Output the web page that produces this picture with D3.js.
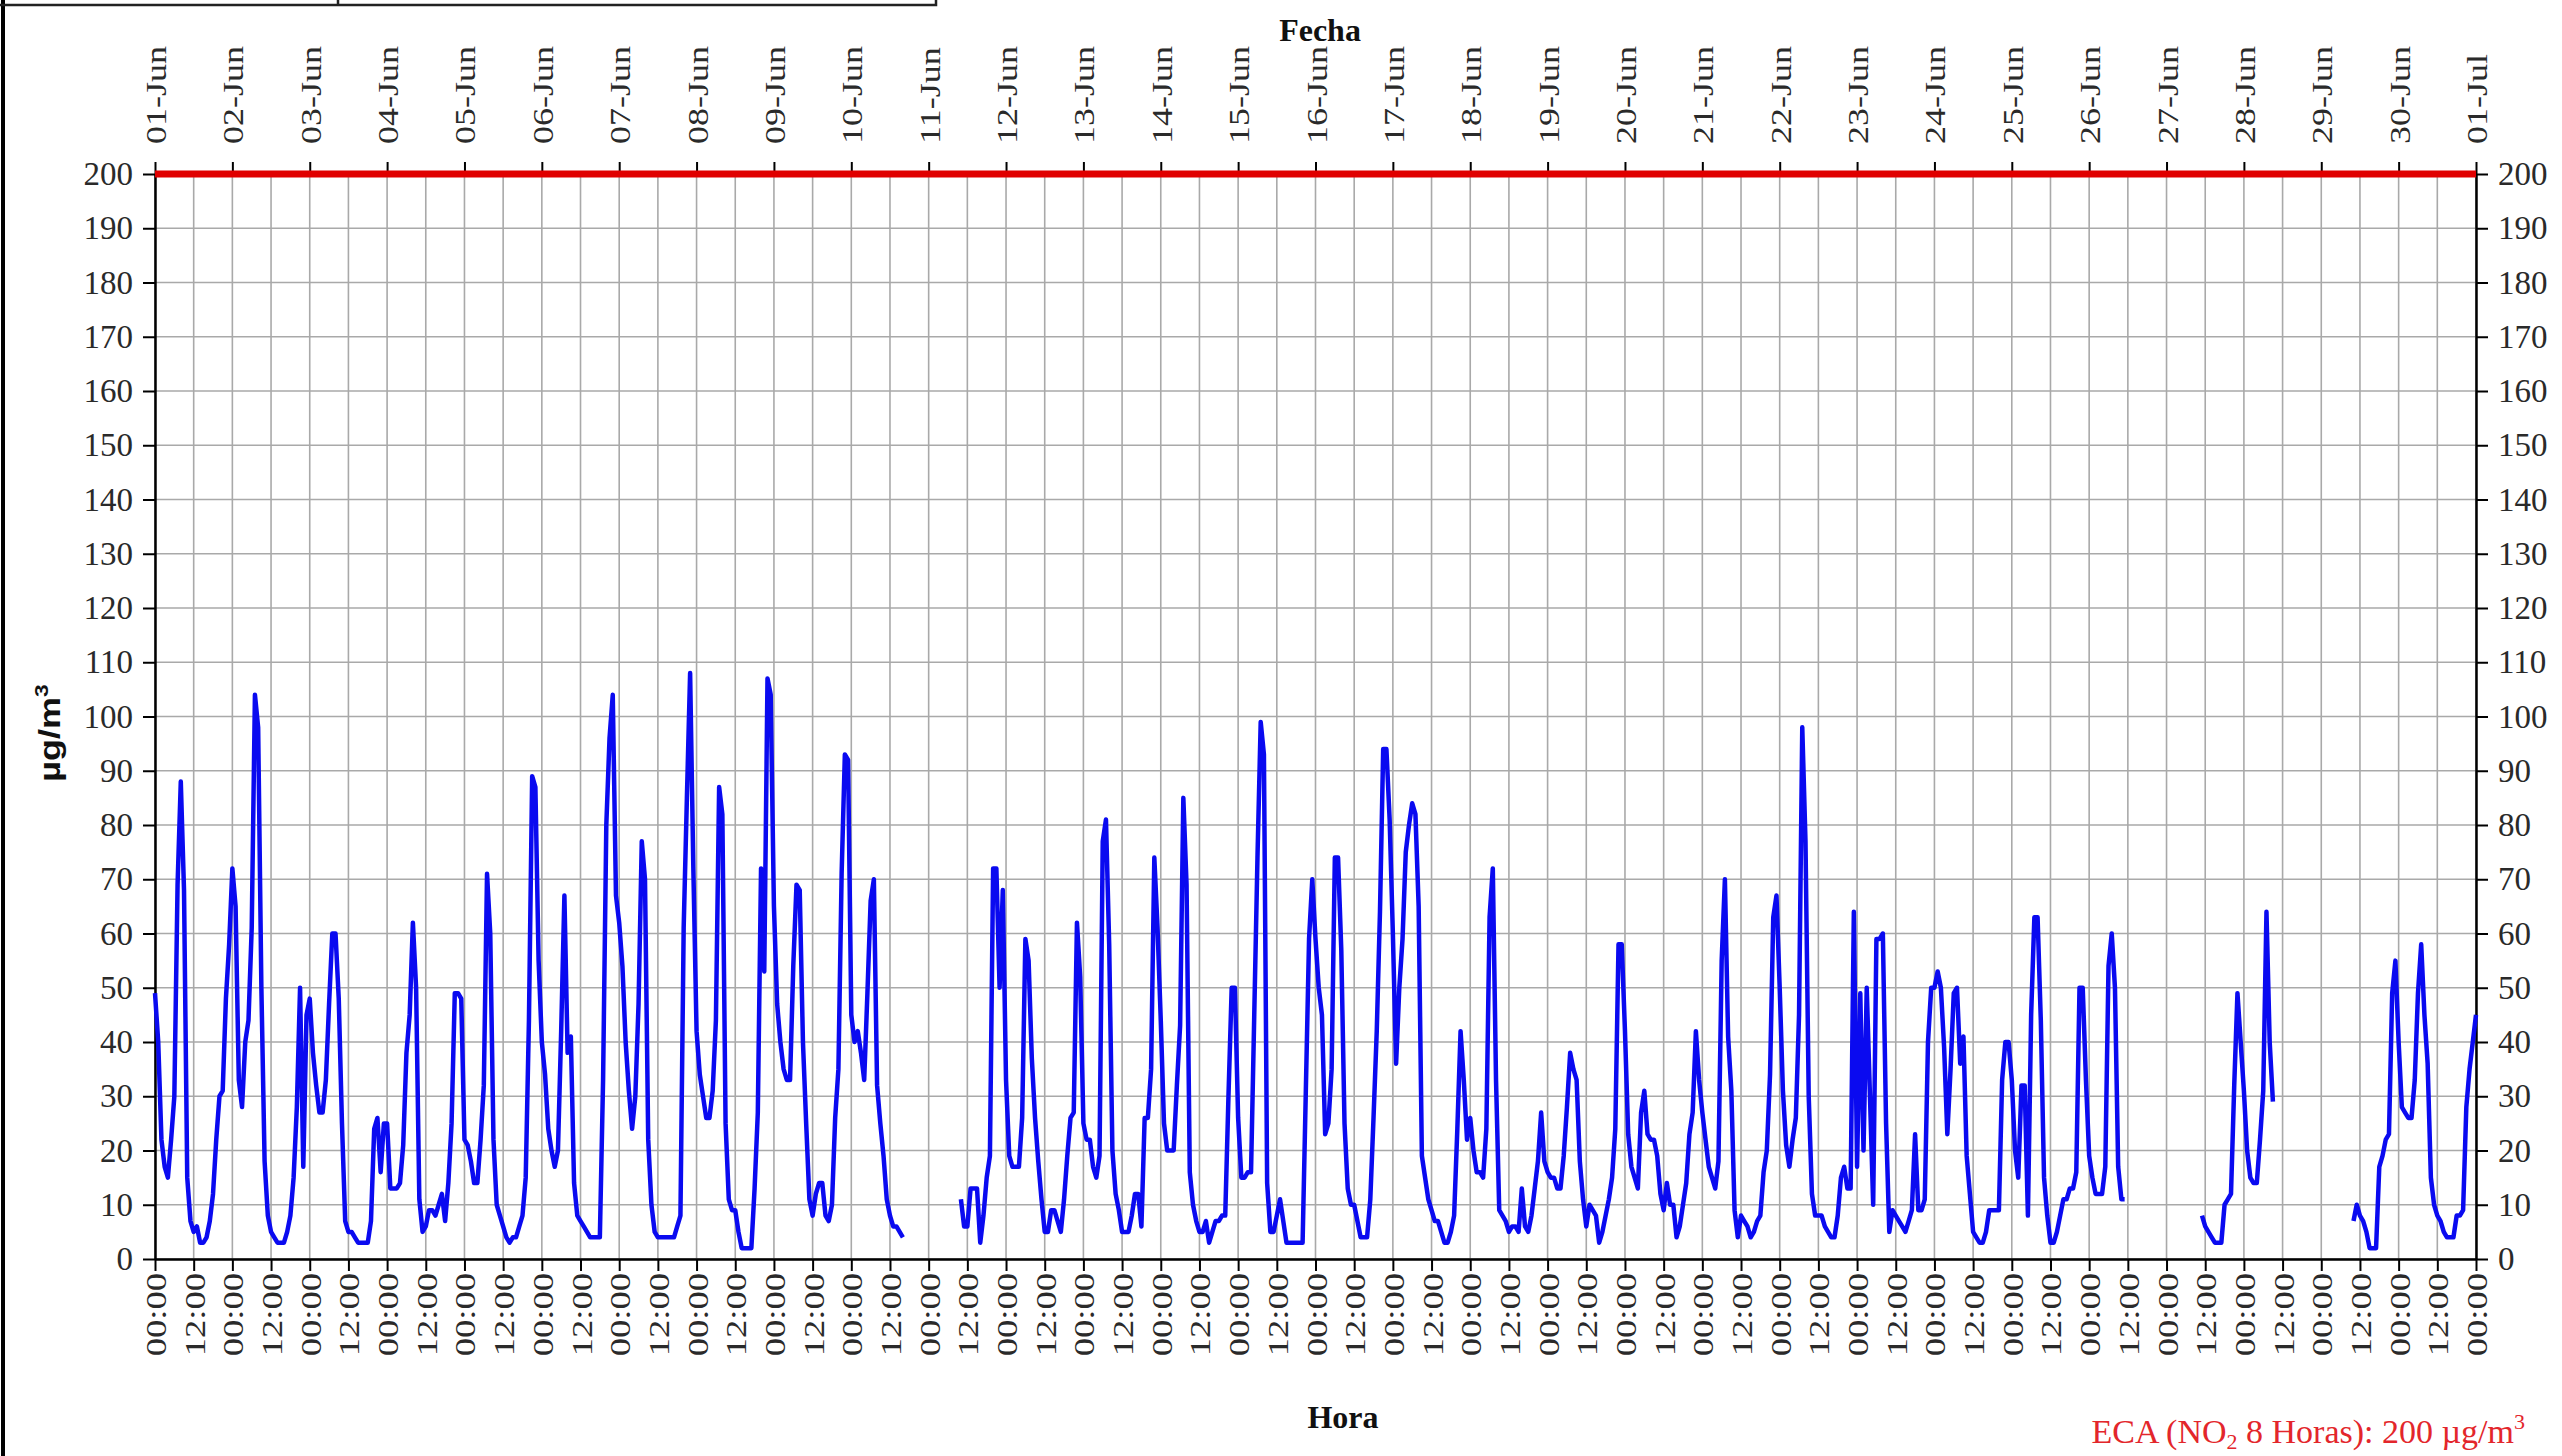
<!DOCTYPE html>
<html><head><meta charset="utf-8">
<script src="https://cdn.jsdelivr.net/npm/d3@7"></script>
<style>
body{margin:0;background:#fff;}
svg{display:block;}
</style>
</head><body>
<svg id="chart" width="2562" height="1456"></svg>
<script>
// ---------- DATA (hourly NO2, µg/m3, June) ----------
const dayLabels = ["01-Jun","02-Jun","03-Jun","04-Jun","05-Jun","06-Jun","07-Jun","08-Jun","09-Jun","10-Jun",
  "11-Jun","12-Jun","13-Jun","14-Jun","15-Jun","16-Jun","17-Jun","18-Jun","19-Jun","20-Jun",
  "21-Jun","22-Jun","23-Jun","24-Jun","25-Jun","26-Jun","27-Jun","28-Jun","29-Jun","30-Jun","01-Jul"];
const hourLabels = ["00:00","12:00"];
const yTicks = [0,10,20,30,40,50,60,70,80,90,100,110,120,130,140,150,160,170,180,190,200];
const ecaLimit = [200];

const day01 = [49,40,22,17,15,22,30,69,88,68,15,7,5,6,3,3,4,7,12,22,30,31,48,58];
const day02 = [72,65,33,28,40,44,61,104,98,50,18,8,5,4,3,3,3,5,8,15,28,50,17,45];
const day03 = [48,38,32,27,27,33,47,60,60,48,25,7,5,5,4,3,3,3,3,7,24,26,16,25];
const day04 = [25,13,13,13,14,21,38,45,62,50,11,5,6,9,9,8,10,12,7,14,25,49,49,48];
const day05 = [22,21,18,14,14,22,32,71,60,22,10,8,6,4,3,4,4,6,8,15,44,89,87,55];
const day06 = [40,34,24,20,17,20,42,67,38,41,14,8,7,6,5,4,4,4,4,33,80,96,104,67];
const day07 = [62,54,40,31,24,30,47,77,70,22,10,5,4,4,4,4,4,4,6,8,61,85,108,72];
const day08 = [42,34,30,26,26,31,44,87,82,25,11,9,9,5,2,2,2,2,13,27,72,53,107,104];
const day09 = [65,47,40,35,33,33,54,69,68,40,25,11,8,12,14,14,8,7,10,26,35,71,93,92];
const day10 = [45,40,42,38,33,49,66,70,32,25,19,11,8,6,6,5,4,null,null,null,null,null,null,null];
const day11 = [null,null,null,null,null,null,null,null,null,null,11,6,6,13,13,13,3,8,15,19,72,72,50,68];
const day12 = [33,19,17,17,17,26,59,55,37,26,18,11,5,5,9,9,7,5,11,19,26,27,62,52];
const day13 = [25,22,22,17,15,19,77,81,58,20,12,9,5,5,5,8,12,12,6,26,26,35,74,61];
const day14 = [44,25,20,20,20,32,43,85,69,16,10,7,5,5,7,3,5,7,7,8,8,30,50,50];
const day15 = [26,15,15,16,16,45,74,99,93,14,5,5,8,11,7,3,3,3,3,3,3,31,59,70];
const day16 = [59,50,45,23,25,35,74,74,57,25,13,10,10,7,4,4,4,11,26,42,64,94,94,81];
const day17 = [60,36,50,59,75,80,84,82,65,19,15,11,9,7,7,5,3,3,5,8,24,42,33,22];
const day18 = [26,20,16,16,15,24,63,72,33,9,8,7,5,6,6,5,13,6,5,8,13,18,27,18];
const day19 = [16,15,15,13,13,19,28,38,35,33,18,11,6,10,9,8,3,5,8,11,15,24,58,58];
const day20 = [42,23,17,15,13,27,31,23,22,22,19,12,9,14,10,10,4,6,10,14,23,27,42,33];
const day21 = [27,22,17,15,13,18,55,70,41,31,9,4,8,7,6,4,5,7,8,16,20,34,63,67];
const day22 = [50,31,21,17,22,26,45,98,77,30,12,8,8,8,6,5,4,4,8,15,17,13,13,64];
const day23 = [17,49,20,50,30,10,59,59,60,25,5,9,8,7,6,5,7,9,23,9,9,11,40,50];
const day24 = [50,53,50,39,23,35,49,50,36,41,19,12,5,4,3,3,5,9,9,9,9,33,40,40];
const day25 = [33,20,15,32,32,8,45,63,63,44,15,8,3,3,5,8,11,11,13,13,16,50,50,33];
const day26 = [19,15,12,12,12,17,54,60,50,17,11,11,null,null,null,null,null,null,null,null,null,null,null,null];
const day27 = [null,null,null,null,null,null,null,null,null,null,null,8,6,5,4,3,3,3,10,11,12,32,49,40];
const day28 = [31,20,15,14,14,22,31,64,40,29,null,null,null,null,null,null,null,null,null,null,null,null,null,null];
const day29 = [null,null,null,null,null,null,null,null,null,null,7,10,8,7,5,2,2,2,17,19,22,23,49,55];
const day30 = [40,28,27,26,26,33,49,58,45,36,15,10,8,7,5,4,4,4,8,8,9,28,35,40];
const jul01 = [45];

const days = [day01,day02,day03,day04,day05,day06,day07,day08,day09,day10,day11,day12,day13,day14,day15,
  day16,day17,day18,day19,day20,day21,day22,day23,day24,day25,day26,day27,day28,day29,day30,jul01];
const series = [];
days.forEach((arr, di) => arr.forEach((v, hi) => series.push({h: di*24 + hi, v: v})));

// ---------- DRAWING ----------
const svg = d3.select("#chart");
const SERIF = "'Liberation Serif','Times New Roman',serif";
const SANS = "'Liberation Sans',Arial,sans-serif";
const L = 155, R = 2476, T = 174, B = 1259;
const x = d3.scaleLinear().domain([0, 720]).range([L, R]);
const y = d3.scaleLinear().domain([0, 200]).range([B, T]);

svg.append("rect").attr("width", 2562).attr("height", 1456).attr("fill", "#fff");

// frame pieces at top-left
svg.append("path").attr("d", "M3,0 V1456").attr("stroke", "#000").attr("stroke-width", 4).attr("fill", "none");
svg.append("path").attr("d", "M0,5 H936 V0 M338,0 V5").attr("stroke", "#222").attr("stroke-width", 2.5).attr("fill", "none");

// grid
const hourGrid = d3.range(0, 721, 12);
svg.append("g").selectAll("line").data(hourGrid).join("line")
  .attr("x1", d => x(d)).attr("x2", d => x(d)).attr("y1", T).attr("y2", B)
  .attr("stroke", "#a9a9a9").attr("stroke-width", 1.6);
svg.append("g").selectAll("line").data(yTicks).join("line")
  .attr("x1", L).attr("x2", R).attr("y1", d => y(d)).attr("y2", d => y(d))
  .attr("stroke", "#a9a9a9").attr("stroke-width", 1.6);

function styleAxis(g, size) {
  g.select(".domain").attr("stroke", "#000").attr("stroke-width", 2.5);
  g.selectAll(".tick line").attr("stroke", "#000").attr("stroke-width", 2);
  g.selectAll("text").attr("font-family", SERIF).attr("font-size", size).attr("fill", "#2a2a2a");
}

// left / right axes
const gl = svg.append("g").attr("transform", `translate(${L},0)`)
  .call(d3.axisLeft(y).tickValues(yTicks).tickSize(12).tickSizeOuter(0).tickPadding(10));
styleAxis(gl, 33);
const gr = svg.append("g").attr("transform", `translate(${R},0)`)
  .call(d3.axisRight(y).tickValues(yTicks).tickSize(12).tickSizeOuter(0).tickPadding(10));
styleAxis(gr, 33);

// bottom axis (hours)
const gb = svg.append("g").attr("transform", `translate(0,${B})`)
  .call(d3.axisBottom(x).tickValues(hourGrid).tickSize(12).tickSizeOuter(0)
    .tickFormat((d, i) => hourLabels[i % 2]));
styleAxis(gb, 30);
gb.selectAll("text").attr("x", 0).attr("y", 0).attr("dy", "0.35em")
  .attr("text-anchor", "end").attr("transform", "translate(0,14) rotate(-90) scale(1.22,1)");

// top axis (dates)
const dayTicks = d3.range(0, 721, 24);
const gt = svg.append("g").attr("transform", `translate(0,${T})`)
  .call(d3.axisTop(x).tickValues(dayTicks).tickSize(12).tickSizeOuter(0)
    .tickFormat((d, i) => dayLabels[i]));
styleAxis(gt, 30);
gt.selectAll("text").attr("x", 0).attr("y", 0).attr("dy", "0.35em")
  .attr("text-anchor", "start").attr("transform", "translate(0,-30) rotate(-90) scale(1.2,1)");

// ECA limit line
const limitLine = d3.line().x(d => x(d[0])).y(d => y(d[1]));
svg.append("path").attr("d", limitLine([[0, ecaLimit[0]], [720, ecaLimit[0]]]))
  .attr("stroke", "#e00000").attr("stroke-width", 7).attr("fill", "none");

// data line
const line = d3.line().defined(d => d.v != null).x(d => x(d.h)).y(d => y(d.v));
svg.append("path").datum(series).attr("d", line)
  .attr("fill", "none").attr("stroke", "#0a0af0").attr("stroke-width", 4.5)
  .attr("stroke-linejoin", "round").attr("stroke-linecap", "butt");

// titles
svg.append("text").attr("x", 1320).attr("y", 41).attr("text-anchor", "middle")
  .attr("font-family", SERIF).attr("font-weight", "bold").attr("font-size", 32).attr("fill", "#111").text("Fecha");
svg.append("text").attr("x", 1343).attr("y", 1428).attr("text-anchor", "middle")
  .attr("font-family", SERIF).attr("font-weight", "bold").attr("font-size", 32).attr("fill", "#111").text("Hora");

const yt = svg.append("text").attr("transform", "translate(60,733) rotate(-90) scale(1.2,1)")
  .attr("text-anchor", "middle").attr("font-family", SANS).attr("font-weight", "bold")
  .attr("font-size", 30).attr("fill", "#111");
yt.append("tspan").text("µg/m");
yt.append("tspan").attr("font-size", 19).attr("dy", -12).text("3");

const eca = svg.append("text").attr("x", 2525).attr("y", 1443).attr("text-anchor", "end")
  .attr("font-family", SERIF).attr("font-size", 34).attr("fill", "#e3262b");
eca.append("tspan").text("ECA (NO");
eca.append("tspan").attr("font-size", 22).attr("dy", 6).text("2");
eca.append("tspan").attr("dy", -6).text(" 8 Horas): 200 µg/m");
eca.append("tspan").attr("font-size", 22).attr("dy", -14).text("3");
</script>
</body></html>
